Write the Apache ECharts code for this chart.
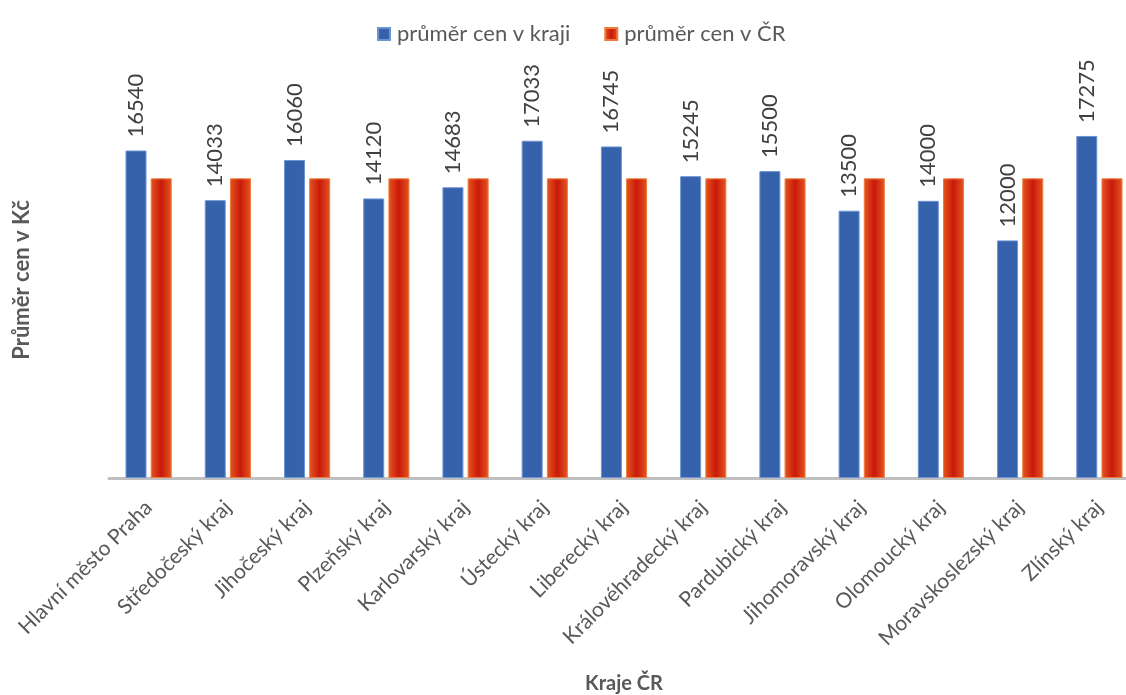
<!DOCTYPE html>
<html>
<head>
<meta charset="utf-8">
<script src="https://cdn.jsdelivr.net/npm/echarts@6/dist/echarts.min.js"></script>
<style>
  html, body { margin: 0; padding: 0; background: #fff; }
  #chart { width: 1126px; height: 695px; }
</style>
</head>
<body>
<div id="chart"></div>
<script>
// Kraje ČR
const regions = [
  'Hlavní město Praha', 'Středočeský kraj', 'Jihočeský kraj', 'Plzeňský kraj',
  'Karlovarský kraj', 'Ústecký kraj', 'Liberecký kraj', 'Královéhradecký kraj',
  'Pardubický kraj', 'Jihomoravský kraj', 'Olomoucký kraj', 'Moravskoslezský kraj',
  'Zlínský kraj'
];
// průměr cen v kraji (Kč)
const regionAvg = [16540, 14033, 16060, 14120, 14683, 17033, 16745, 15245, 15500, 13500, 14000, 12000, 17275];
// průměr cen v ČR (Kč)
const nationalAvg = [15133, 15133, 15133, 15133, 15133, 15133, 15133, 15133, 15133, 15133, 15133, 15133, 15133];

const FONT = 'Lato, "Open Sans", sans-serif';
const GREY = '#595959';

const chart = echarts.init(document.getElementById('chart'), null, { renderer: 'canvas' });

chart.setOption({
  animation: false,
  textStyle: { fontFamily: FONT },
  legend: {
    top: 18,
    left: 372,
    itemWidth: 12,
    itemHeight: 12,
    itemGap: 34,
    icon: 'rect',
    textStyle: { fontSize: 22, color: GREY, fontFamily: FONT, padding: [0, 0, 0, 2] },
    data: ['průměr cen v kraji', 'průměr cen v ČR']
  },
  grid: { left: 109, right: -13, top: 82, bottom: 217, outerBoundsMode: 'none', containLabel: false },
  xAxis: {
    type: 'category',
    data: regions,
    name: 'Kraje ČR',
    nameLocation: 'middle',
    nameGap: 196,
    nameTextStyle: { fontSize: 20, fontWeight: 'bold', color: GREY, fontFamily: FONT },
    axisLine: { lineStyle: { color: '#bfbfbf', width: 3 } },
    axisTick: { show: false },
    axisLabel: {
      interval: 0,
      rotate: 45,
      margin: 26,
      fontSize: 21,
      color: GREY,
      fontFamily: FONT
    }
  },
  yAxis: {
    type: 'value',
    min: 0,
    max: 20000,
    name: 'Průměr cen v Kč',
    nameLocation: 'middle',
    nameGap: 76,
    nameRotate: 90,
    nameTextStyle: { fontSize: 22, fontWeight: 'bold', color: GREY, fontFamily: FONT },
    axisLine: { show: false },
    axisTick: { show: false },
    axisLabel: { show: false },
    splitLine: { show: false }
  },
  series: [
    {
      name: 'průměr cen v kraji',
      type: 'bar',
      data: regionAvg,
      barWidth: 21,
      barGap: '20%',
      itemStyle: {
        color: '#3562aa',
        borderColor: '#6f94d4',
        borderWidth: 1
      },
      label: {
        show: true,
        position: 'top',
        rotate: 90,
        align: 'left',
        verticalAlign: 'middle',
        distance: 13,
        fontSize: 22,
        color: '#404040',
        fontFamily: FONT
      }
    },
    {
      name: 'průměr cen v ČR',
      type: 'bar',
      data: nationalAvg,
      barWidth: 21,
      itemStyle: {
        color: new echarts.graphic.LinearGradient(0, 0, 1, 0, [
          { offset: 0, color: '#e4571f' },
          { offset: 0.5, color: '#c9190b' },
          { offset: 1, color: '#e4571f' }
        ]),
        borderColor: '#ee7a3c',
        borderWidth: 1
      }
    }
  ]
});
</script>
</body>
</html>
